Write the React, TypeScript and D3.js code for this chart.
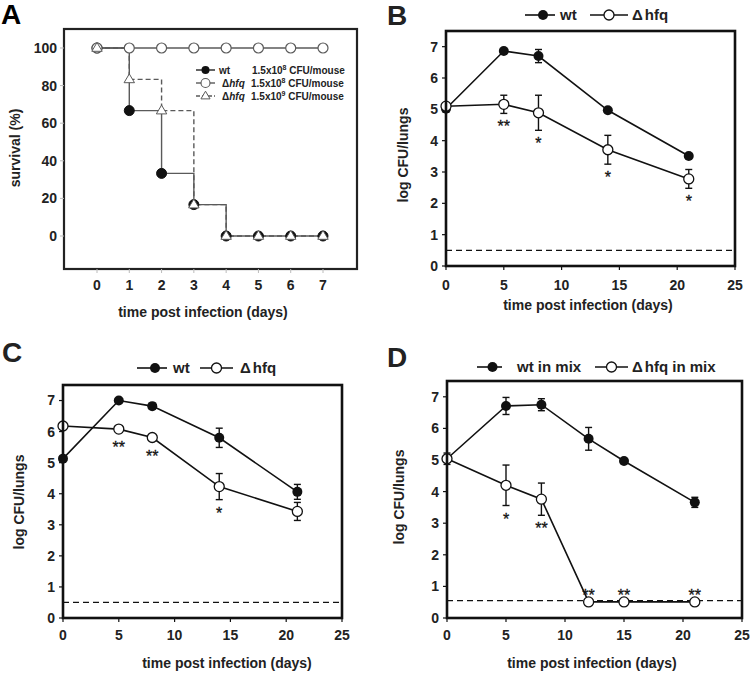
import React from "react";
import * as d3 from "d3";

// ---------- Panel A: survival ----------
const daysA = [0, 1, 2, 3, 4, 5, 6, 7];
const survWt = [100, 66.7, 33.3, 16.7, 0, 0, 0, 0];
const survHfq8 = [100, 100, 100, 100, 100, 100, 100, 100];
const survHfq9 = [100, 83.3, 66.7, 16.7, 0, 0, 0, 0];
const ticksA_x = [0, 1, 2, 3, 4, 5, 6, 7];
const ticksA_y = [0, 20, 40, 60, 80, 100];

// ---------- Panel B ----------
const daysB = [0, 5, 8, 14, 21];
const bWt = [5.02, 6.86, 6.7, 4.97, 3.51];
const bWtErr = [0.1, 0.03, 0.21, 0.04, 0.06];
const bHfq = [5.1, 5.16, 4.89, 3.71, 2.78];
const bHfqErr = [0.04, 0.29, 0.56, 0.46, 0.3];
const bStars = ["", "**", "*", "*", "*"];
const bLimit = 0.5;

// ---------- Panel C ----------
const daysC = [0, 5, 8, 14, 21];
const cWt = [5.13, 7.0, 6.82, 5.8, 4.06];
const cWtErr = [0.03, 0.03, 0.09, 0.31, 0.24];
const cHfq = [6.18, 6.08, 5.81, 4.23, 3.43];
const cHfqErr = [0.03, 0.03, 0.07, 0.42, 0.29];
const cStars = ["", "**", "**", "*", ""];
const cLimit = 0.5;

// ---------- Panel D ----------
const daysD = [0, 5, 8, 12, 15, 21];
const dWt = [5.04, 6.71, 6.75, 5.67, 4.97, 3.66];
const dWtErr = [0.18, 0.27, 0.19, 0.36, 0.04, 0.16];
const dHfq = [5.04, 4.2, 3.76, 0.51, 0.51, 0.51];
const dHfqErr = [0.05, 0.64, 0.51, 0, 0, 0];
const dStars = ["", "*", "**", "**", "**", "**"];
const dLimit = 0.55;

const ticksX = [0, 5, 10, 15, 20, 25];
const ticksY = [0, 1, 2, 3, 4, 5, 6, 7];

const FONT = "'Liberation Sans', Arial, sans-serif";

function PanelA() {
  const box = { x0: 64, y0: 29, x1: 357, y1: 269 };
  const x = d3.scaleLinear().domain([0, 7]).range([97, 323]);
  const y = d3.scaleLinear().domain([0, 100]).range([236, 48]);
  const step = d3
    .line<number>()
    .x((_, i) => x(daysA[i]))
    .y((v) => y(v))
    .curve(d3.curveStepAfter);
  const grey = "#5a5a5a";
  const tri = (cx: number, cy: number, s = 5.5) =>
    `M${cx},${cy - s} L${cx + s * 0.95},${cy + s * 0.6} L${cx - s * 0.95},${cy + s * 0.6} Z`;
  return (
    <g>
      <text x={1} y={24} fontSize={28} fontWeight="bold" fontFamily={FONT}>A</text>
      <rect x={box.x0} y={box.y0} width={box.x1 - box.x0} height={box.y1 - box.y0} fill="none" stroke="#222" strokeWidth={2.2} />
      {ticksA_y.map((t) => (
        <g key={"ya" + t}>
          <line x1={box.x0 - 4} x2={box.x0} y1={y(t)} y2={y(t)} stroke="#bbb" strokeWidth={1} />
          <text x={57} y={y(t)} dy="0.35em" textAnchor="end" fontSize={14} fontWeight="bold" fontFamily={FONT} fill="#222">{t}</text>
        </g>
      ))}
      {ticksA_x.map((t) => (
        <g key={"xa" + t}>
          <line x1={x(t)} x2={x(t)} y1={box.y1} y2={box.y1 + 4} stroke="#bbb" strokeWidth={1} />
          <text x={x(t)} y={285} dy="0.35em" textAnchor="middle" fontSize={14} fontWeight="bold" fontFamily={FONT} fill="#222">{t}</text>
        </g>
      ))}
      <text transform={`translate(15,148) rotate(-90)`} textAnchor="middle" dy="0.35em" fontSize={14} fontWeight="bold" fontFamily={FONT} fill="#222">survival (%)</text>
      <text x={203} y={312} textAnchor="middle" dy="0.35em" fontSize={14} fontWeight="bold" fontFamily={FONT} fill="#222">time post infection (days)</text>

      <path d={step(survHfq8) || ""} fill="none" stroke={grey} strokeWidth={1.4} />
      <path d={step(survHfq9) || ""} fill="none" stroke={grey} strokeWidth={1.4} strokeDasharray="5,3" />
      <path d={step(survWt) || ""} fill="none" stroke={grey} strokeWidth={1.4} />

      {survWt.map((v, i) => (
        <circle key={"wc" + i} cx={x(daysA[i])} cy={y(v)} r={5} fill="#111" stroke="#111" strokeWidth={1} />
      ))}
      {survHfq8.map((v, i) => (
        <circle key={"hc" + i} cx={x(daysA[i])} cy={y(v)} r={5} fill="#fff" stroke={grey} strokeWidth={1.2} />
      ))}
      {survHfq9.map((v, i) => (
        <path key={"ht" + i} d={tri(x(daysA[i]), y(v))} fill="#fff" stroke={grey} strokeWidth={1} />
      ))}

      {/* legend */}
      <g fontFamily={FONT} fontWeight="bold" fontSize={10} fill="#222">
        <line x1={196} x2={215} y1={70} y2={70} stroke="#222" strokeWidth={1.4} />
        <circle cx={205.5} cy={70} r={4} fill="#111" />
        <text x={219} y={70} dy="0.35em">wt</text>
        <text x={252} y={70} dy="0.35em">1.5x10<tspan fontSize={7} dy={-4}>8</tspan><tspan dy={4}> CFU/mouse</tspan></text>

        <line x1={196} x2={215} y1={83} y2={83} stroke={grey} strokeWidth={1.4} />
        <circle cx={205.5} cy={83} r={4.5} fill="#fff" stroke={grey} strokeWidth={1.1} />
        <text x={222} y={83} dy="0.35em">Δ<tspan fontStyle="italic">hfq</tspan></text>
        <text x={251} y={83} dy="0.35em">1.5x10<tspan fontSize={7} dy={-4}>8</tspan><tspan dy={4}> CFU/mouse</tspan></text>

        <line x1={196} x2={215} y1={96} y2={96} stroke={grey} strokeWidth={1.4} strokeDasharray="4,2" />
        <path d={tri(205.5, 96, 4.8)} fill="#fff" stroke={grey} strokeWidth={1} />
        <text x={222} y={96} dy="0.35em">Δ<tspan fontStyle="italic">hfq</tspan></text>
        <text x={251} y={96} dy="0.35em">1.5x10<tspan fontSize={7} dy={-4}>9</tspan><tspan dy={4}> CFU/mouse</tspan></text>
      </g>
    </g>
  );
}

type LP = {
  letter: string;
  letterX: number;
  letterY: number;
  box: { x0: number; y0: number; x1: number; y1: number };
  days: number[];
  wt: number[];
  wtErr: number[];
  hfq: number[];
  hfqErr: number[];
  stars: string[];
  limit: number;
  yTitle: [number, number];
  xTitle: [number, number];
  xLabelY: number;
  legendY: number;
  leg1: [number, number, number];
  leg2: [number, number, number];
  name1: string;
  name2: string;
};

function LinePanel(p: LP) {
  const { box } = p;
  const x = d3.scaleLinear().domain([0, 25]).range([box.x0, box.x1]);
  const y = d3.scaleLinear().domain([0, 7.5]).range([box.y1, box.y0]);
  const line = d3
    .line<number>()
    .x((_, i) => x(p.days[i]))
    .y((v) => y(v));
  const cap = 3.5;
  const errBars = (vals: number[], errs: number[], key: string) =>
    vals.map((v, i) =>
      errs[i] > 0 ? (
        <g key={key + i} stroke="#111" strokeWidth={1.4}>
          <line x1={x(p.days[i])} x2={x(p.days[i])} y1={y(v + errs[i])} y2={y(v - errs[i])} />
          <line x1={x(p.days[i]) - cap} x2={x(p.days[i]) + cap} y1={y(v + errs[i])} y2={y(v + errs[i])} />
          <line x1={x(p.days[i]) - cap} x2={x(p.days[i]) + cap} y1={y(v - errs[i])} y2={y(v - errs[i])} />
        </g>
      ) : null
    );
  return (
    <g fontFamily={FONT}>
      <text x={p.letterX} y={p.letterY} fontSize={28} fontWeight="bold" fill="#222">{p.letter}</text>
      {/* legend */}
      <g fontSize={15} fontWeight="bold" fill="#222">
        <line x1={p.leg1[0]} x2={p.leg1[1]} y1={p.legendY} y2={p.legendY} stroke="#111" strokeWidth={1.6} />
        <circle cx={(p.leg1[0] + p.leg1[1]) / 2 + 3} cy={p.legendY} r={5} fill="#111" />
        <text x={p.leg1[2]} y={p.legendY} dy="0.35em">{p.name1}</text>
        <line x1={p.leg2[0]} x2={p.leg2[1]} y1={p.legendY} y2={p.legendY} stroke="#111" strokeWidth={1.6} />
        <circle cx={(p.leg2[0] + p.leg2[1]) / 2} cy={p.legendY} r={5} fill="#fff" stroke="#111" strokeWidth={1.3} />
        <text x={p.leg2[2]} y={p.legendY} dy="0.35em">Δ<tspan dx={2}>{p.name2}</tspan></text>
      </g>
      {/* axes ticks */}
      {ticksY.map((t) => (
        <g key={"y" + t}>
          <line x1={box.x0 - 4} x2={box.x0} y1={y(t)} y2={y(t)} stroke="#111" strokeWidth={1.2} />
          <text x={box.x0 - 8} y={y(t)} dy="0.35em" textAnchor="end" fontSize={14} fontWeight="bold" fill="#222">{t}</text>
        </g>
      ))}
      {ticksX.map((t) => (
        <g key={"x" + t}>
          <line x1={x(t)} x2={x(t)} y1={box.y1} y2={box.y1 + 4} stroke="#111" strokeWidth={1.2} />
          <text x={x(t)} y={p.xLabelY} dy="0.35em" textAnchor="middle" fontSize={14} fontWeight="bold" fill="#222">{t}</text>
        </g>
      ))}
      <text transform={`translate(${p.yTitle[0]},${p.yTitle[1]}) rotate(-90)`} dy="0.35em" textAnchor="middle" fontSize={14} fontWeight="bold" fill="#222">log CFU/lungs</text>
      <text x={p.xTitle[0]} y={p.xTitle[1]} dy="0.35em" textAnchor="middle" fontSize={14} fontWeight="bold" fill="#222">time post infection (days)</text>

      {/* detection limit */}
      <line x1={box.x0} x2={box.x1} y1={y(p.limit)} y2={y(p.limit)} stroke="#111" strokeWidth={1.2} strokeDasharray="6,4" />

      {/* lines */}
      <path d={line(p.wt) || ""} fill="none" stroke="#111" strokeWidth={1.6} />
      <path d={line(p.hfq) || ""} fill="none" stroke="#111" strokeWidth={1.6} />
      {errBars(p.wt, p.wtErr, "we")}
      {errBars(p.hfq, p.hfqErr, "he")}
      {p.wt.map((v, i) => (
        <circle key={"w" + i} cx={x(p.days[i])} cy={y(v)} r={5} fill="#111" />
      ))}
      {p.hfq.map((v, i) => (
        <circle key={"h" + i} cx={x(p.days[i])} cy={y(v)} r={5} fill="#fff" stroke="#111" strokeWidth={1.3} />
      ))}
      {/* significance stars */}
      {p.stars.map((s, i) => {
        if (!s) return null;
        const v = p.hfq[i];
        const cx = x(p.days[i]);
        let cy: number;
        if (v < 1) {
          cy = y(v) - 10;
        } else {
          cy = Math.max(y(v - p.hfqErr[i]), y(v) + 5) + 10;
        }
        return (
          <text key={"s" + i} x={cx} y={cy + 9} textAnchor="middle" fontSize={16} fill="#111" stroke="#111" strokeWidth={0.3}>{s}</text>
        );
      })}
      <rect x={box.x0} y={box.y0} width={box.x1 - box.x0} height={box.y1 - box.y0} fill="none" stroke="#111" strokeWidth={2.6} />
    </g>
  );
}

export default function App() {
  return (
    <svg width={750} height={674} style={{ position: "absolute", left: 0, top: 0, background: "#fff" }}>
      <rect width={750} height={674} fill="#fff" />
      <PanelA />
      <LinePanel
        letter="B" letterX={387} letterY={25}
        box={{ x0: 446, y0: 31, x1: 735, y1: 266 }}
        days={daysB} wt={bWt} wtErr={bWtErr} hfq={bHfq} hfqErr={bHfqErr} stars={bStars} limit={bLimit}
        yTitle={[403, 155]} xTitle={[588, 305]} xLabelY={285}
        legendY={15} leg1={[525, 555, 560]} leg2={[590, 628, 632]}
        name1="wt" name2="hfq"
      />
      <LinePanel
        letter="C" letterX={2} letterY={362}
        box={{ x0: 63, y0: 385, x1: 342, y1: 618 }}
        days={daysC} wt={cWt} wtErr={cWtErr} hfq={cHfq} hfqErr={cHfqErr} stars={cStars} limit={cLimit}
        yTitle={[19, 502]} xTitle={[227, 663]} xLabelY={635}
        legendY={368} leg1={[137, 167, 173]} leg2={[200, 233, 240]}
        name1="wt" name2="hfq"
      />
      <LinePanel
        letter="D" letterX={387} letterY={367}
        box={{ x0: 447, y0: 381, x1: 742, y1: 618 }}
        days={daysD} wt={dWt} wtErr={dWtErr} hfq={dHfq} hfqErr={dHfqErr} stars={dStars} limit={dLimit}
        yTitle={[399, 497]} xTitle={[592, 663]} xLabelY={635}
        legendY={367} leg1={[477, 502, 517]} leg2={[595, 628, 632]}
        name1="wt in mix" name2="hfq in mix"
      />
    </svg>
  );
}
